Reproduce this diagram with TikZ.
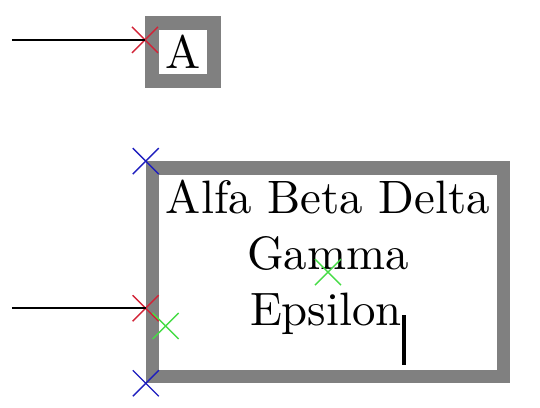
\documentclass[tikz,border=0pt]{standalone}
\usepackage{tikz}
\usetikzlibrary{shapes.misc, positioning, calc}

\definecolor{markred}{RGB}{210,35,55}
\definecolor{markblue}{RGB}{30,30,190}
\definecolor{markgreen}{RGB}{70,220,70}

\tikzset{
  framebox/.style={draw=gray, line width=2.9pt, inner sep=0pt, align=center},
  crossmark/.style={draw, cross out, line width=0.3pt, minimum size=5.55pt, inner sep=0pt, outer sep=0pt},
  feed/.style={draw, line width=0.4pt}
}

\begin{document}
\begin{tikzpicture}[x=0.21345pt, y=-0.21345pt]
\useasboundingbox (0,0) rectangle (540,408);

% Boxes
\node[framebox, minimum width=13.23pt, minimum height=12.38pt] (boxA) at (183,52) {A};
\node[framebox, minimum width=74.9pt, minimum height=44.5pt] (boxB) at (328,272.25)
  {Alfa Beta Delta\\Gamma\\Epsilon\rule[-8.3pt]{0.85pt}{10.67pt}};

% Markers
\node[crossmark, markred] (hitA) at (145,40) {};
\node[crossmark, markred] (hitB) at (145.7,308.3) {};
\node[crossmark, markblue] (nwB) at (boxB.north west) {};
\node[crossmark, markblue] (swB) at (boxB.south west) {};
\node[crossmark, markgreen] (midB) at (boxB.center) {};
\node[crossmark, markgreen] (textB) at (165.7,326) {};

% Incoming lines
\coordinate (startA) at (12,40);
\coordinate (startB) at (12,308.3);
\draw[feed] (startA) -- (hitA.center);
\draw[feed] (startB) -- (hitB.center);
\end{tikzpicture}
\end{document}
